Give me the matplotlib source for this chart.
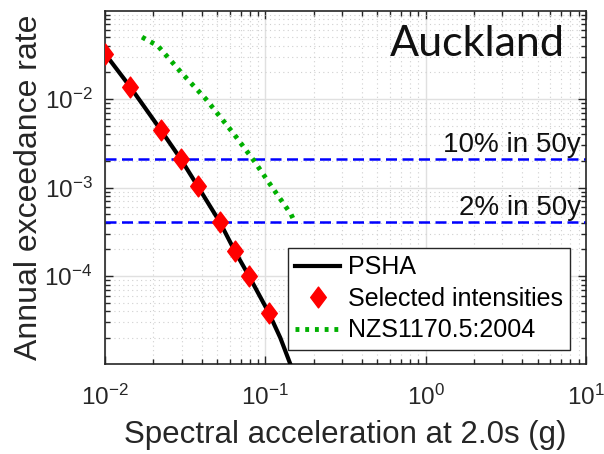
import numpy as np
import matplotlib
matplotlib.use('Agg')
import matplotlib.pyplot as plt
from matplotlib.path import Path
from matplotlib.ticker import LogLocator, NullFormatter

plt.rcParams['font.family'] = ['Liberation Sans', 'DejaVu Sans']
plt.rcParams['mathtext.fontset'] = 'custom'
plt.rcParams['mathtext.rm'] = 'Liberation Sans'
plt.rcParams['axes.unicode_minus'] = False

# PSHA hazard curve, Sa(2.0s) vs annual exceedance rate
psha_sa = [0.010, 0.0143, 0.0223, 0.0296, 0.0379, 0.0521, 0.0644, 0.079, 0.105, 0.124, 0.145]
psha_rate = [0.0324, 0.0138, 0.00444, 0.00211, 0.00103, 0.000404, 0.000192, 0.0001, 0.0000385,
             0.000020, 0.0000095]

# selected intensities on the hazard curve
sel_sa = [0.010, 0.0143, 0.0223, 0.0296, 0.0379, 0.0521, 0.0644, 0.079, 0.105]
sel_rate = [0.0324, 0.0138, 0.00444, 0.00211, 0.00103, 0.000404, 0.000192, 0.0001, 0.0000385]

# NZS1170.5 spectral values for return periods 20-2500 yrs
nzs_sa = [0.017, 0.0213, 0.0298, 0.0425, 0.0638, 0.085, 0.1105, 0.1445, 0.153]
nzs_rate = [1/20, 1/25, 1/50, 1/100, 1/250, 1/500, 1/1000, 1/2000, 1/2500]

# design levels
poe_labels = ['10% in 50y', '2% in 50y']
poe_rates = [0.002107, 0.000404]

# matlab-style diamond (taller than wide)
diamond = Path([(0, 1), (0.75, 0), (0, -1), (-0.75, 0), (0, 1)],
               [Path.MOVETO, Path.LINETO, Path.LINETO, Path.LINETO, Path.CLOSEPOLY])

fig = plt.figure(figsize=(6.04, 4.54), dpi=100)
ax = fig.add_axes([0.174, 0.198, 0.796, 0.778])

ax.plot(psha_sa, psha_rate, color='black', lw=3, label='PSHA', zorder=3)
ax.plot(sel_sa, sel_rate, ls='none', marker=diamond, color='red', ms=15,
        label='Selected intensities', zorder=4)
ax.plot(nzs_sa, nzs_rate, color='#00b000', lw=3.5, ls=(0, (0.8, 1.2)),
        label='NZS1170.5:2004', zorder=3)

for lab, r in zip(poe_labels, poe_rates):
    ax.axhline(r, color='blue', lw=1.8, ls=(0, (4.4, 2.2)), zorder=2)
    ax.text(0.99, r * 1.2, lab, transform=ax.get_yaxis_transform(),
            ha='right', va='baseline', fontsize=20, color='#111111')

ax.text(0.957, 0.873, 'Auckland', transform=ax.transAxes, ha='right', va='baseline',
        fontsize=31, family=['Lato', 'DejaVu Sans'], color='#111111')

ax.set_xscale('log')
ax.set_yscale('log')
ax.set_xlim(0.01, 10)
ax.set_ylim(1.01e-5, 0.099)
ax.set_yticks([1e-4, 1e-3, 1e-2])
ax.yaxis.set_minor_locator(LogLocator(base=10, subs=np.arange(2, 10)))
ax.yaxis.set_minor_formatter(NullFormatter())
ax.xaxis.set_minor_locator(LogLocator(base=10, subs=np.arange(2, 10)))
ax.xaxis.set_minor_formatter(NullFormatter())

ax.grid(True, which='major', color='#e0e0e0', lw=1.0, ls='-')
ax.grid(True, which='minor', color='#d0d0d0', lw=0.8, ls=(0, (1, 3)))
ax.set_axisbelow(True)

ax.tick_params(which='both', direction='in', top=True, right=True, colors='#262626',
               labelsize=17.5, width=1.0)
ax.tick_params(which='major', length=6, pad=9)
ax.tick_params(axis='x', which='major', pad=15)
ax.tick_params(which='minor', length=3.5)
for s in ax.spines.values():
    s.set_color('#262626')
    s.set_linewidth(1.2)

ax.set_xlabel('Spectral acceleration at 2.0s (g)', fontsize=22.5, color='#262626', labelpad=7)
ax.set_ylabel('Annual exceedance rate', fontsize=23, color='#262626', labelpad=0)

leg = ax.legend(loc='lower right', bbox_to_anchor=(0.967, 0.04), borderaxespad=0,
                fontsize=18, fancybox=False, framealpha=1, edgecolor='#262626',
                handlelength=1.8, borderpad=0.3, labelspacing=0.3, handletextpad=0.3)
leg.get_frame().set_linewidth(1.0)

fig.savefig('out.png', dpi=100)
